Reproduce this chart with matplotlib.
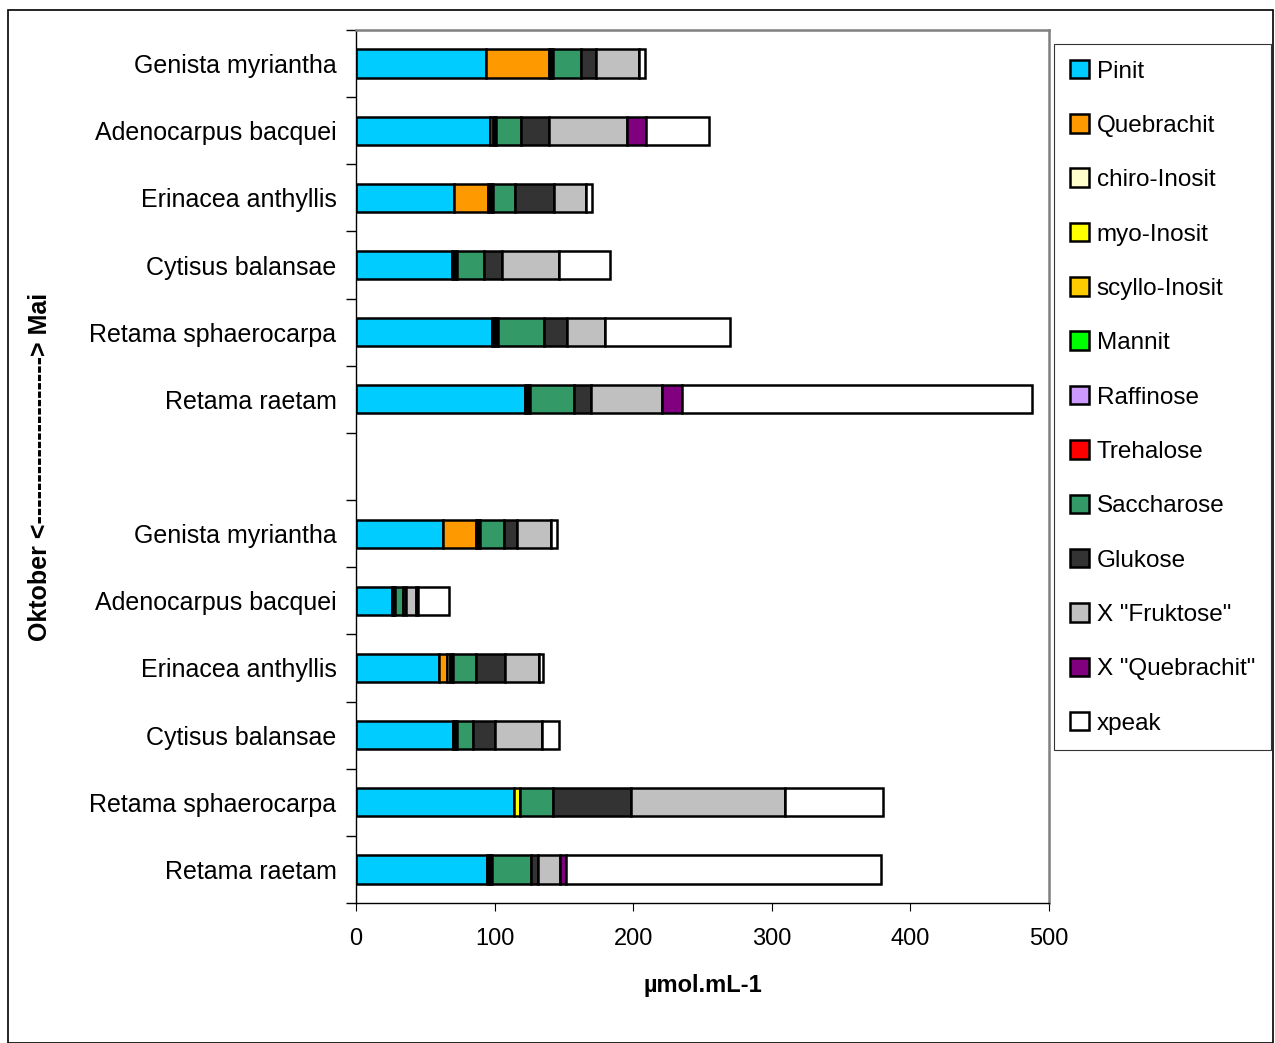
# stacked sugar bars, Mai vs Oktober
import matplotlib.pyplot as plt
import numpy as np
from matplotlib.patches import Rectangle

plt.rcParams['font.family'] = ['Liberation Sans', 'DejaVu Sans']

# rows top to bottom: Mai block, then Oktober block
species = ['Genista myriantha', 'Adenocarpus bacquei', 'Erinacea anthyllis',
           'Cytisus balansae', 'Retama sphaerocarpa', 'Retama raetam']
row_labels = species + species

components = ['Pinit', 'Quebrachit', 'chiro-Inosit', 'myo-Inosit', 'scyllo-Inosit',
              'Mannit', 'Raffinose', 'Trehalose', 'Saccharose', 'Glukose',
              'X "Fruktose"', 'X "Quebrachit"', 'xpeak']
colors = ['#00CCFF', '#FF9900', '#FFFFCC', '#FFFF00', '#FFCC00', '#00FF00',
          '#CC99FF', '#FF0000', '#339966', '#333333', '#C0C0C0', '#800080', '#FFFFFF']

pinit      = [94, 97, 71, 69, 98, 122,   63, 26, 60, 70, 114, 94.5]
quebrachit = [45, 0, 24, 0, 0, 0,        23.5, 0, 6, 0, 0, 0]
chiro      = [1.2, 1.5, 1.5, 1.5, 1.5, 1.2,  1, 0.8, 1.5, 1, 0, 1.2]
myo        = [1.2, 1.5, 1.5, 1.5, 1.5, 1.2,  1, 0.7, 1.5, 1, 4, 1.2]
scyllo     = [1, 1, 1, 1, 1.5, 1.1,      1, 0.5, 1, 1, 0, 1.1]
mannit     = [0] * 12
raffinose  = [0] * 12
trehalose  = [0] * 12
saccharose = [20, 18, 16, 19, 33, 32,    17, 6, 16.5, 11.5, 24, 28]
glukose    = [11, 20, 28, 13, 17, 12,    10, 2, 21, 15.5, 56.5, 5]
fruktose   = [31, 56.5, 23, 41.5, 27, 51,  24.5, 7, 24.5, 34, 111, 16.5]
x_queb     = [0, 13.5, 0, 0, 0, 15,      0, 2, 0, 0, 0, 4]
xpeak      = [4, 45.5, 4, 37, 90, 252.5,  4, 22, 3, 12.5, 70.5, 227]

series = [pinit, quebrachit, chiro, myo, scyllo, mannit, raffinose, trehalose,
          saccharose, glukose, fruktose, x_queb, xpeak]

# positions: 13 slots, slot 6 left empty
pos = np.array([0, 1, 2, 3, 4, 5, 7, 8, 9, 10, 11, 12])

fig = plt.figure(figsize=(12.75, 10.43), dpi=100)
ax = fig.add_axes([356 / 1275, 1 - 903 / 1043, 693 / 1275, 873 / 1043])

left = np.zeros(12)
for name, vals, c in zip(components, series, colors):
    v = np.array(vals, dtype=float)
    ax.barh(pos, v, left=left, height=0.42, color=c, edgecolor='black',
            linewidth=1.8, label=name)
    left += v

ax.set_xlim(0, 500)
ax.set_ylim(12.5, -0.5)
ax.set_yticks(pos)
ax.set_yticklabels(row_labels, fontsize=18)
ax.tick_params(axis='y', length=0, pad=14)
# category separator ticks on the left
ax.set_yticks(np.arange(-0.5, 13, 1), minor=True)
ax.tick_params(axis='y', which='minor', length=7, width=1, direction='out')
ax.set_xticks([0, 100, 200, 300, 400, 500])
ax.tick_params(axis='x', labelsize=17, length=6, direction='out', pad=12)
ax.set_xlabel('µmol.mL-1', fontsize=17, fontweight='bold', labelpad=17)

for s in ['top', 'right']:
    ax.spines[s].set_color('#808080')
    ax.spines[s].set_linewidth(1.8)
for s in ['left', 'bottom']:
    ax.spines[s].set_color('black')
    ax.spines[s].set_linewidth(1.0)

fig.text(40 / 1275, 1 - 467 / 1043, 'Oktober <--------------------> Mai',
         rotation=90, ha='center', va='center', fontsize=18, fontweight='bold')

leg = ax.legend(loc='upper left', bbox_to_anchor=(1054 / 1275, 1 - 44 / 1043),
                bbox_transform=fig.transFigure, fontsize=17.5, frameon=True,
                fancybox=False, edgecolor='black', handlelength=0.8,
                handleheight=0.8, handletextpad=0.3, labelspacing=1.3,
                borderpad=0.65, borderaxespad=0)
leg.get_frame().set_linewidth(0.8)

# outer chart border
fig.patches.append(Rectangle((8 / 1275, 0), 1265 / 1275, 1 - 10 / 1043,
                             transform=fig.transFigure, fill=False,
                             edgecolor='black', linewidth=1.2))

fig.savefig('out.png', dpi=100)
